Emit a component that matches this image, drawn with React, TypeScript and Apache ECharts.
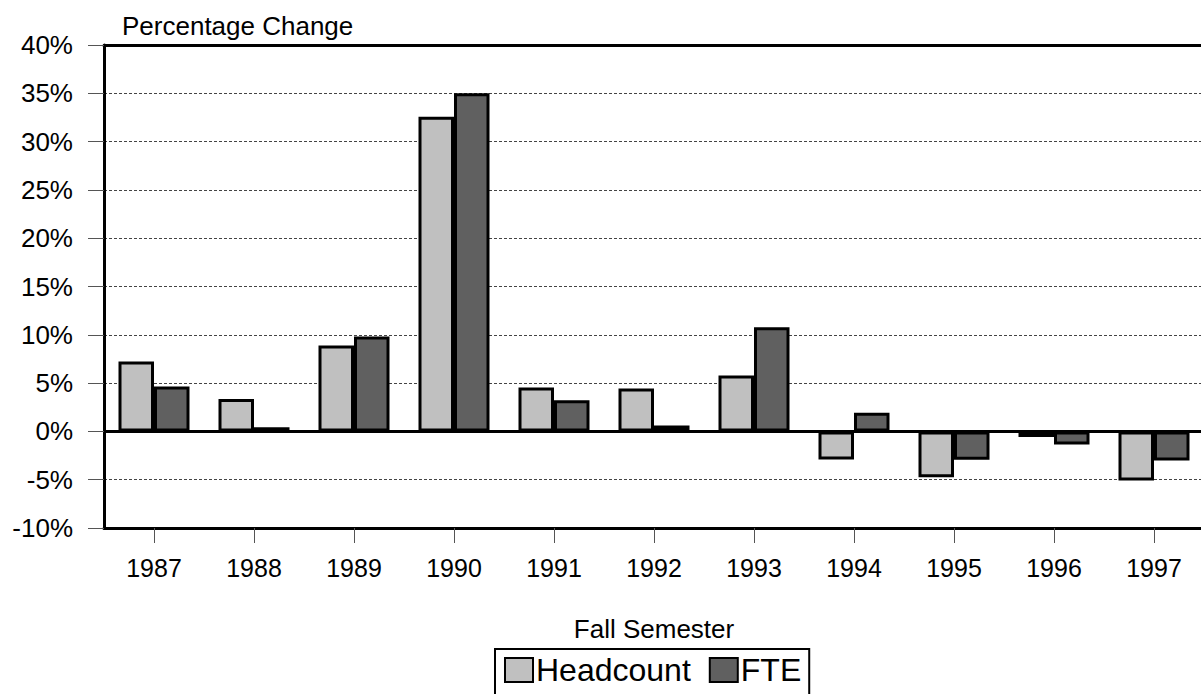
import React, { useEffect, useRef } from "react";
import * as echarts from "echarts";

const years = ["1987", "1988", "1989", "1990", "1991", "1992", "1993", "1994", "1995", "1996", "1997"];
const headcount = [7.24, 3.36, 8.9, 32.57, 4.54, 4.43, 5.78, -2.9, -4.74, -0.59, -5.09];
const fte = [4.64, 0.42, 9.83, 35.0, 3.22, 0.62, 10.77, 1.94, -2.94, -1.35, -3.0];

const FONT = "'Liberation Sans', Arial, sans-serif";

export default function App() {
  const ref = useRef<HTMLDivElement>(null);
  useEffect(() => {
    document.body.style.margin = "0";
    document.body.style.overflow = "hidden";
    const chart = echarts.init(ref.current!, null, { renderer: "svg" });
    chart.setOption({
      animation: false,
      backgroundColor: "#ffffff",
      textStyle: { fontFamily: FONT, color: "#000" },
      grid: {
        left: 104,
        top: 45,
        right: -3,
        height: 483,
        show: false,
        containLabel: false,
        outerBoundsMode: "none",
      },
      legend: {
        left: 495,
        top: 649,
        padding: [5, 8, 20, 9],
        borderColor: "#000",
        borderWidth: 2,
        itemWidth: 28,
        itemHeight: 24,
        itemGap: 18,
        icon: "rect",
        itemStyle: { borderColor: "#000", borderWidth: 2 },
        textStyle: { fontFamily: FONT, fontSize: 32, color: "#000", lineHeight: 32, padding: [0, 0, 0, -2] },
        data: ["Headcount", "FTE"],
      },
      xAxis: [
        {
          type: "category",
          data: years,
          boundaryGap: true,
          position: "bottom",
          name: "Fall Semester",
          nameLocation: "middle",
          nameGap: 88,
          nameTextStyle: { fontFamily: FONT, fontSize: 26, color: "#000", verticalAlign: "top" },
          axisLine: { show: true, onZero: false, lineStyle: { color: "#000", width: 3 } },
          axisTick: { show: true, alignWithLabel: true, length: 15, lineStyle: { color: "#555", width: 1 } },
          axisLabel: { fontFamily: FONT, fontSize: 25, color: "#000", margin: 27 },
          splitLine: { show: false },
        },
        {
          type: "category",
          data: years,
          position: "top",
          axisLine: { show: true, onZero: false, lineStyle: { color: "#000", width: 3 } },
          axisTick: { show: false },
          axisLabel: { show: false },
          splitLine: { show: false },
        },
      ],
      yAxis: {
        type: "value",
        min: -10,
        max: 40,
        interval: 5,
        name: "Percentage Change",
        nameLocation: "end",
        nameGap: 6,
        nameTextStyle: { fontFamily: FONT, fontSize: 26, color: "#000", align: "left", padding: [0, 0, 0, 18] },
        axisLine: { show: true, onZero: false, lineStyle: { color: "#000", width: 3 } },
        axisTick: { show: true, length: 16, lineStyle: { color: "#555", width: 1 } },
        axisLabel: { fontFamily: FONT, fontSize: 26, color: "#000", margin: 31, formatter: "{value}%" },
        splitLine: { show: true, lineStyle: { color: "#444", width: 1, type: [3, 2] } },
      },
      series: [
        {
          name: "Headcount",
          type: "bar",
          data: headcount,
          xAxisIndex: 0,
          barGap: "0%",
          barCategoryGap: "29%",
          itemStyle: { color: "#c0c0c0", borderColor: "#000", borderWidth: 3 },
          markLine: {
            silent: true,
            symbol: "none",
            label: { show: false },
            lineStyle: { color: "#000", width: 3, type: "solid" },
            data: [{ yAxis: 0 }],
          },
        },
        {
          name: "FTE",
          type: "bar",
          data: fte,
          xAxisIndex: 0,
          barGap: "0%",
          barCategoryGap: "29%",
          itemStyle: { color: "#606060", borderColor: "#000", borderWidth: 3 },
        },
      ],
    });
    return () => chart.dispose();
  }, []);
  return <div ref={ref} style={{ width: 1201, height: 694, overflow: "hidden" }} />;
}
